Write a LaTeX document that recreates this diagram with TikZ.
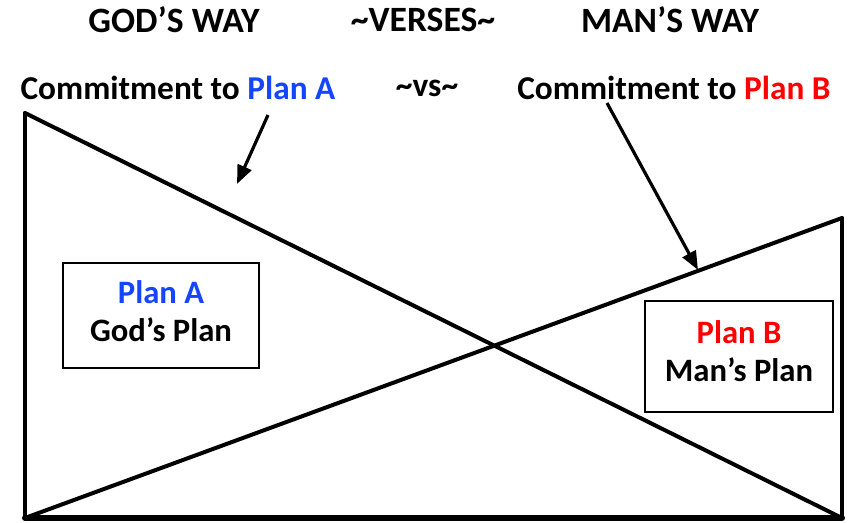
\documentclass[tikz,border=0pt]{standalone}
\usepackage{fontspec}
\setmainfont{Carlito}
\usetikzlibrary{arrows.meta}

\definecolor{planblue}{RGB}{20,70,255}
\definecolor{planred}{RGB}{255,0,0}

\tikzset{
  heading/.style={font=\fontsize{26.7}{30}\selectfont\bfseries},
  subheading/.style={font=\fontsize{25}{29}\selectfont\bfseries},
  planbox/.style={align=center,font=\fontsize{24.5}{28.5}\selectfont\bfseries},
  boxline/.style={line width=0.8pt,fill=white},
  frame/.style={line width=3pt,line cap=round,line join=round},
  pointer/.style={line width=2.4pt,-{Triangle[length=14pt,width=11pt]}}
}

\begin{document}
\begin{tikzpicture}[x=0.75pt,y=-0.75pt]
  \useasboundingbox (0,0) rectangle (854,523);

  % headings
  \node[heading] (god) at (174,20) {GOD'S WAY};
  \node[heading] (verses) at (423,20) {\textasciitilde VERSES\textasciitilde};
  \node[heading] (man) at (670,20) {MAN'S WAY};

  \node[subheading] (comA) at (178,88) {Commitment to \textcolor{planblue}{Plan A}};
  \node[subheading] (vs) at (427,88) {\textasciitilde vs\textasciitilde};
  \node[subheading] (comB) at (674,88) {Commitment to \textcolor{planred}{Plan B}};

  % the crossed shape
  \coordinate (tl) at (25,113);
  \coordinate (bl) at (25,518);
  \coordinate (tr) at (842,218);
  \coordinate (br) at (842,518);
  \draw[frame] (tl) -- (bl);
  \draw[frame] (tr) -- (br);
  \draw[frame,line width=4.5pt] (bl) -- (br);
  \draw[frame] (tl) -- (br);
  \draw[frame] (bl) -- (tr);

  % plan boxes
  \coordinate (boxA) at (161,315.5);
  \coordinate (boxB) at (739,356.5);
  \draw[boxline] (boxA) +(-98,-52.5) rectangle +(98,52.5);
  \draw[boxline] (boxB) +(-94,-55.5) rectangle +(94,55.5);
  \node[planbox] (planA) at (161,311.5) {\textcolor{planblue}{Plan A}\\God's Plan};
  \node[planbox] (planB) at (739,351) {\textcolor{planred}{Plan B}\\Man's Plan};

  % pointers
  \coordinate (startA) at (268,115);
  \coordinate (endA) at (237,184);
  \coordinate (startB) at (607,103);
  \coordinate (endB) at (698,270);
  \draw[pointer] (startA) -- (endA);
  \draw[pointer] (startB) -- (endB);
\end{tikzpicture}
\end{document}
